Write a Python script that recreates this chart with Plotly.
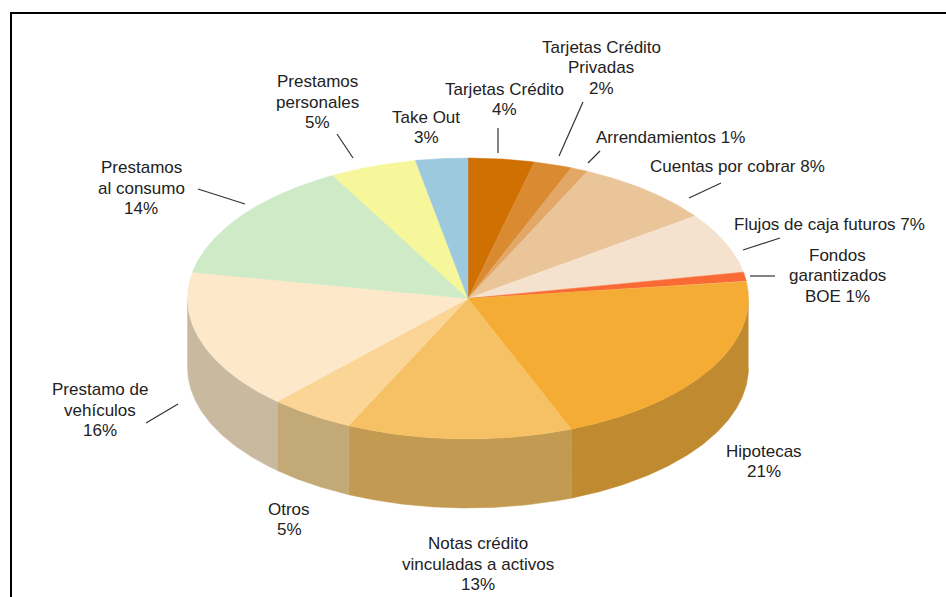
import numpy as np
import plotly.graph_objects as go

# ---- data ----
categories = ["Tarjetas Crédito", "Tarjetas Crédito<br>Privadas", "Arrendamientos", "Cuentas por cobrar",
              "Flujos de caja futuros", "Fondos<br>garantizados<br>BOE", "Hipotecas",
              "Notas crédito<br>vinculadas a activos", "Otros", "Prestamo de<br>vehículos",
              "Prestamos<br>al consumo", "Prestamos<br>personales", "Take Out"]
values = [4, 2, 1, 8, 7, 1, 21, 13, 5, 16, 14, 5, 3]
# slice sizes as measured on the picture (printed labels are rounded)
measured_shares = [3.8, 2.2, 1.0, 8.0, 7.0, 1.0, 21.0, 13.0, 4.9, 16.1, 14.0, 5.0, 3.0]

# ---- styles ----
top_colors = ["#D06F02", "#DA8B31", "#E3A767", "#EAC59A", "#F5E2CE", "#F96A35", "#F4AC35",
              "#F6C165", "#FAD596", "#FDE9CA", "#CEEAC6", "#F6F79A", "#9DC9DF"]
side_colors = [None, None, None, None, None, None, "#C08A30", "#C39A52", "#C3A976", "#C9BA9F",
               None, None, None]
same_line = [False, False, True, True, True, False, False, False, False, False, False, False, False]
text_pos = [(504, 99.5), (601, 67.5), (670, 137), (737, 166), (829, 224), (837.5, 275.5), (764, 461.5),
            (478, 564), (289, 519.5), (100, 410), (141, 188), (317, 102), (426, 127.5)]
leaders = [((498, 128), (498, 153)), ((583, 102), (559, 156)), ((600, 151), (588, 163)),
           ((721, 183), (689, 198)), ((780, 238), (743, 250)), ((750, 276), (775, 276)), None, None, None,
           ((178, 404), (146, 423)), ((198, 189), (245, 204)), ((337, 134), (353, 158)), None]

CX, CY, RX, RY, DEPTH = 468, 298.5, 280.5, 140.5, 69
LINE_STEP = 20.5

fig = go.Figure()
cum = np.concatenate([[0], np.cumsum(measured_shares)]) / sum(measured_shares) * 2 * np.pi


def ex(t):
    return CX + RX * np.sin(t)


def ey(t):
    return CY - RY * np.cos(t)


# side walls (only the front half of the rim is visible)
for i, col in enumerate(side_colors):
    if col is None:
        continue
    a, b = max(cum[i], np.pi / 2), min(cum[i + 1], 3 * np.pi / 2)
    t = np.linspace(a, b, 120)
    xs = np.concatenate([ex(t), ex(t[::-1])])
    ys = np.concatenate([ey(t), ey(t[::-1]) + DEPTH])
    fig.add_trace(go.Scatter(x=xs, y=ys, mode="lines", fill="toself", fillcolor=col,
                             line=dict(color=col, width=0.5), hoverinfo="skip", showlegend=False))

# top face
for i, col in enumerate(top_colors):
    t = np.linspace(cum[i], cum[i + 1], max(8, int(values[i] * 12)))
    xs = np.concatenate([[CX], ex(t), [CX]])
    ys = np.concatenate([[CY], ey(t), [CY]])
    fig.add_trace(go.Scatter(x=xs, y=ys, mode="lines", fill="toself", fillcolor=col,
                             line=dict(color=col, width=0.5), showlegend=False,
                             name=categories[i].replace("<br>", " "),
                             text=f"{values[i]}%", hoverinfo="name+text"))

shapes = [
    dict(type="line", x0=11, x1=946, y0=13, y1=13, line=dict(color="#000", width=2)),
    dict(type="line", x0=11, x1=11, y0=12, y1=597, line=dict(color="#000", width=2)),
]
for seg in leaders:
    if seg:
        (x0, y0), (x1, y1) = seg
        shapes.append(dict(type="line", x0=x0, y0=y0, x1=x1, y1=y1, line=dict(color="#333", width=1.2)))

annotations = []
for cat, v, inline, (x, y) in zip(categories, values, same_line, text_pos):
    sep = " " if (inline or cat.endswith("BOE")) else "<br>"
    lines = f"{cat}{sep}{v}%".split("<br>")
    for k, line in enumerate(lines):
        annotations.append(dict(x=x, y=y + (k - (len(lines) - 1) / 2) * LINE_STEP, text=line,
                                showarrow=False, xanchor="center", yanchor="middle", align="center",
                                font=dict(family="Liberation Sans", size=17, color="#222")))

fig.update_layout(
    width=946, height=597, margin=dict(l=0, r=0, t=0, b=0),
    paper_bgcolor="white", plot_bgcolor="white", showlegend=False,
    xaxis=dict(range=[0, 946], visible=False, fixedrange=True),
    yaxis=dict(range=[597, 0], visible=False, fixedrange=True),
    shapes=shapes, annotations=annotations,
)
fig.write_html("out.html", config=dict(displayModeBar=False),
               post_script="document.body.style.margin='0';document.body.style.overflow='hidden';")
